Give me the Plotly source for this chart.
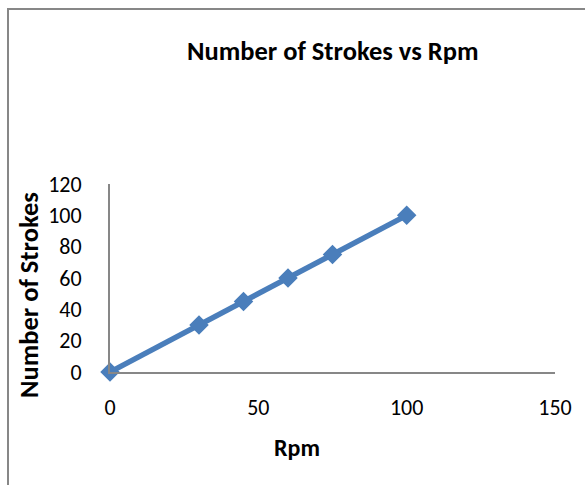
import plotly.graph_objects as go

rpm = [0, 30, 45, 60, 75, 100]
strokes = [0, 30, 45, 60, 75, 100]
x_ticks = [0, 50, 100, 150]
y_ticks = [0, 20, 40, 60, 80, 100, 120]

W, H = 585, 485
L, R, T, B = 110, 30, 184, 113
pw, ph = W - L - R, H - T - B

FONT = "Calibri, Carlito, Lato, sans-serif"

fig = go.Figure()
fig.add_trace(go.Scatter(
    x=rpm, y=strokes, mode="lines+markers",
    line=dict(color="#4A7EBB", width=5.5),
    marker=dict(symbol="diamond", size=15, color="#4A7EBB"),
    cliponaxis=False,
    showlegend=False,
))

axis_common = dict(showgrid=False, zeroline=False, showline=True,
                   linecolor="#878787", linewidth=2, ticks="",
                   tickfont=dict(family=FONT, size=22, color="black"))

fig.update_layout(
    width=W, height=H,
    margin=dict(l=L, r=R, t=T, b=B),
    paper_bgcolor="white", plot_bgcolor="white",
    xaxis=dict(range=[0, 150], tickvals=x_ticks, ticklabelstandoff=15, **axis_common),
    yaxis=dict(range=[0, 120], tickvals=y_ticks, ticklabelstandoff=22, **axis_common),
    annotations=[
        dict(text="<b>Number of Strokes vs Rpm</b>", xref="paper", yref="paper",
             x=0.5, y=1 + (T - 51) / ph, xanchor="center", yanchor="middle",
             showarrow=False, font=dict(family=FONT, size=26.5, color="black")),
        dict(text="<b>Rpm</b>", xref="paper", yref="paper",
             x=(297 - L) / pw, y=-(447 - (H - B)) / ph, xanchor="center", yanchor="middle",
             showarrow=False, font=dict(family=FONT, size=24, color="black")),
        dict(text="<b>Number of Strokes</b>", xref="paper", yref="paper", textangle=-90,
             x=(29 - L) / pw, y=1 - (295 - T) / ph, xanchor="center", yanchor="middle",
             showarrow=False, font=dict(family=FONT, size=26.5, color="black")),
    ],
    shapes=[
        dict(type="rect", xref="paper", yref="paper",
             x0=(8 - L) / pw, x1=(W + 10 - L) / pw,
             y0=1 + (T - 9) / ph, y1=-(H + 10 - (H - B)) / ph,
             line=dict(color="#878787", width=2), fillcolor="rgba(0,0,0,0)", layer="below"),
    ],
)

fig.write_html("out.html", config={"displayModeBar": False},
               post_script="document.body.style.margin='0';document.body.style.overflow='hidden';")
